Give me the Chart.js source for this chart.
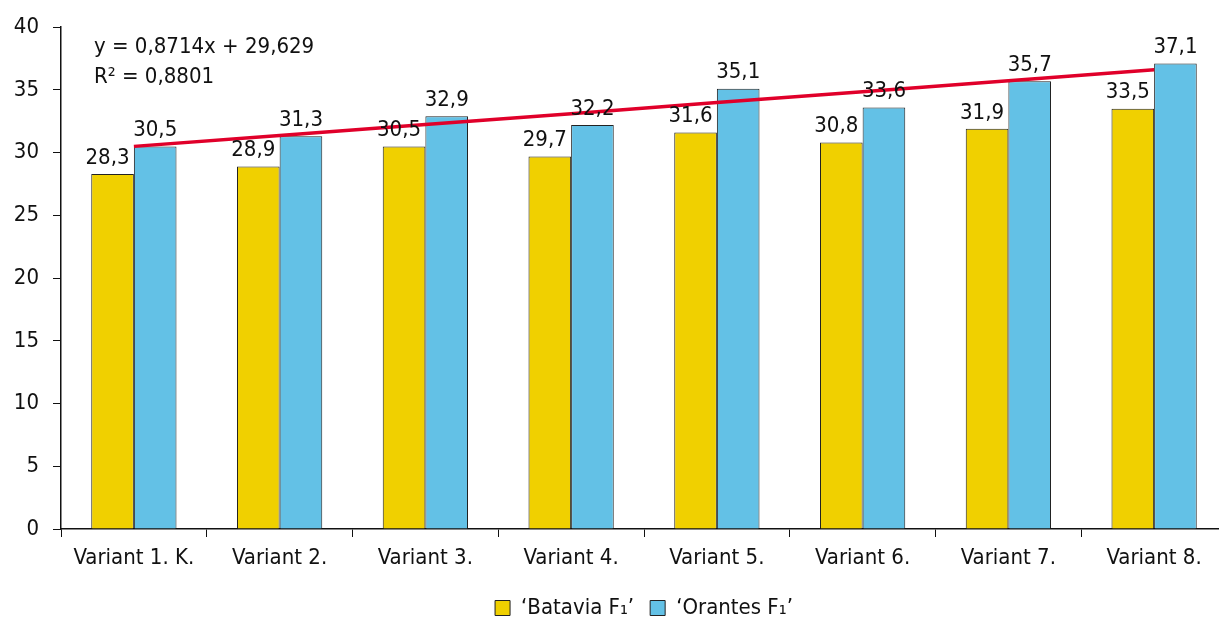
<!DOCTYPE html>
<html lang="en">
<head>
    <meta charset="UTF-8">
    <title>Variants chart</title>
    <script src="https://cdn.jsdelivr.net/npm/chart.js"></script>
    <style>
        html, body {
            margin: 0;
            padding: 0;
            background: #fff;
            overflow: hidden;
        }

        .chart-box {
            width: 1230px;
            height: 617px;
        }
    </style>
</head>
<body>
    <div class="chart-box">
        <canvas id="variantChart"></canvas>
    </div>

    <script>
        const categories = ['Variant 1. K.', 'Variant 2.', 'Variant 3.', 'Variant 4.', 'Variant 5.', 'Variant 6.', 'Variant 7.', 'Variant 8.'];
        const batavia = [28.3, 28.9, 30.5, 29.7, 31.6, 30.8, 31.9, 33.5];
        const orantes = [30.5, 31.3, 32.9, 32.2, 35.1, 33.6, 35.7, 37.1];
        // linear trend shown in the picture (y = 0,8714x + 29,629)
        const trend = [30.50, 31.37, 32.24, 33.11, 33.99, 34.86, 35.73, 36.60];
        const yTicks = [0, 5, 10, 15, 20, 25, 30, 35, 40];

        const FONT = '"DejaVu Sans Condensed", "DejaVu Sans", sans-serif';

        // value labels above the bars + trend equation
        const labelPlugin = {
            id: 'valueLabels',
            afterDatasetsDraw(chart) {
                const ctx = chart.ctx;
                ctx.save();
                ctx.font = '22px ' + FONT;
                ctx.fillStyle = '#111';
                ctx.textAlign = 'center';
                ctx.textBaseline = 'bottom';
                [0, 1].forEach(function(di) {
                    const meta = chart.getDatasetMeta(di);
                    const vals = chart.data.datasets[di].data;
                    meta.data.forEach(function(bar, i) {
                        const dx = di === 0 ? -5 : 0;
                        ctx.fillText(vals[i].toFixed(1).replace('.', ','), bar.x + dx, bar.y - 5);
                    });
                });
                ctx.textAlign = 'left';
                ctx.textBaseline = 'middle';
                ctx.fillText('y = 0,8714x + 29,629', 94, 47);
                ctx.fillText('R² = 0,8801', 94, 77);
                ctx.restore();
            }
        };

        new Chart(document.getElementById('variantChart'), {
            type: 'bar',
            data: {
                labels: categories,
                datasets: [{
                    label: '‘Batavia F₁’',
                    data: batavia,
                    backgroundColor: '#F0D000',
                    borderColor: '#222',
                    borderWidth: 1,
                    order: 2
                },
                {
                    label: '‘Orantes F₁’',
                    data: orantes,
                    backgroundColor: '#63C1E6',
                    borderColor: '#222',
                    borderWidth: 1,
                    order: 2
                },
                {
                    type: 'line',
                    label: 'trend',
                    data: trend,
                    borderColor: '#E0002A',
                    borderWidth: 3.5,
                    pointRadius: 0,
                    fill: false,
                    order: 1
                }]
            },
            options: {
                responsive: true,
                maintainAspectRatio: false,
                animation: false,
                categoryPercentage: 0.585,
                barPercentage: 1.0,
                layout: {
                    padding: { top: 27, left: 0, right: 3, bottom: -12 }
                },
                plugins: {
                    legend: {
                        position: 'bottom',
                        fullSize: false,
                        labels: {
                            font: { family: FONT, size: 22 },
                            color: '#111',
                            boxWidth: 15,
                            boxHeight: 15,
                            padding: 16,
                            filter: function(item) { return item.datasetIndex < 2; }
                        }
                    },
                    tooltip: { enabled: false }
                },
                scales: {
                    x: {
                        offset: true,
                        afterFit: function(scale) { scale.height = 52; },
                        grid: {
                            offset: true,
                            drawOnChartArea: false,
                            drawTicks: true,
                            tickLength: 8,
                            color: '#111'
                        },
                        border: { color: '#111', width: 1.5 },
                        ticks: {
                            font: { family: FONT, size: 22 },
                            color: '#111',
                            padding: 8
                        }
                    },
                    y: {
                        min: 0,
                        max: 40,
                        afterFit: function(scale) { scale.width = 61; },
                        afterBuildTicks: function(scale) {
                            scale.ticks = yTicks.map(function(v) { return { value: v }; });
                        },
                        grid: {
                            drawOnChartArea: false,
                            drawTicks: true,
                            tickLength: 8,
                            color: '#111'
                        },
                        border: { color: '#111', width: 1.5 },
                        ticks: {
                            font: { family: FONT, size: 22 },
                            color: '#111',
                            padding: 14
                        }
                    }
                }
            },
            plugins: [labelPlugin]
        });
    </script>
</body>
</html>
